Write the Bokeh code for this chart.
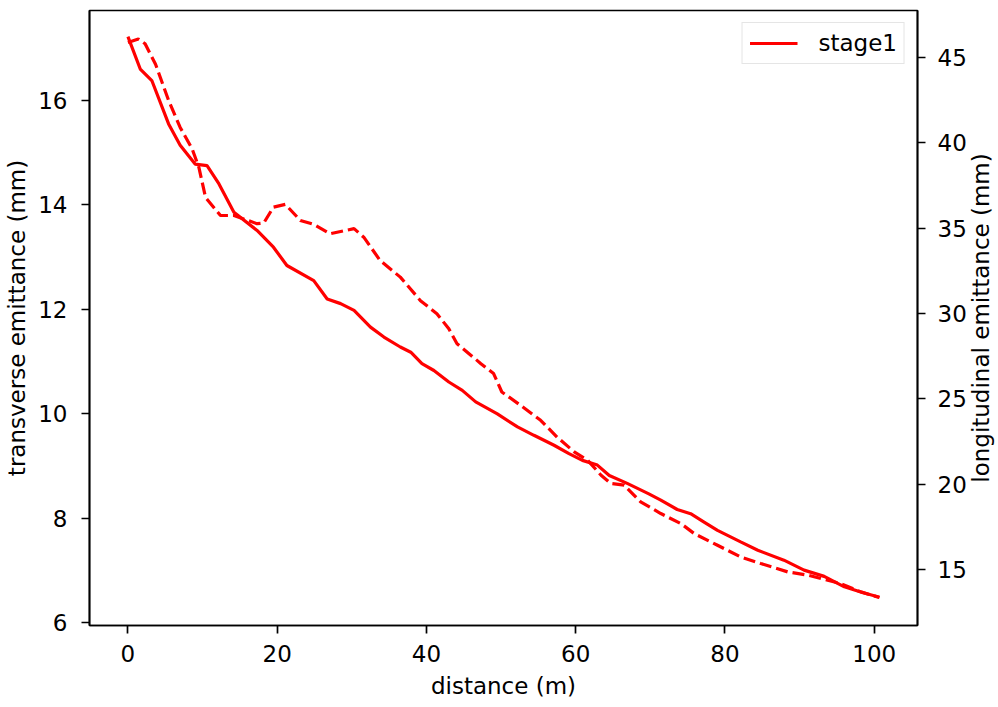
import math
from bokeh.plotting import figure
from bokeh.models import Range1d, LinearAxis, FixedTicker, Legend, LegendItem, Label
from bokeh.embed import file_html
from bokeh.resources import INLINE

# transverse emittance (left axis, solid)
trans_x = [0, 1.65, 3.2, 5.45, 7.0, 9.0, 10.6, 12.2, 14.2, 17.3, 19.5, 21.3, 24.9, 26.7, 28.5,
           30.3, 32.5, 34.3, 36.5, 37.9, 39.4, 41.0, 43.0, 44.8, 46.6, 49.5, 52.2, 54.4, 57.1,
           59.1, 60.9, 62.9, 64.5, 66.9, 69.8, 71.4, 73.6, 75.4, 77.2, 79.0, 82.1, 84.4, 87.9,
           90.6, 93.3, 96.0, 98.2, 100.7]
trans_y = [17.22, 16.60, 16.38, 15.55, 15.14, 14.78, 14.75, 14.40, 13.86, 13.51, 13.19, 12.84,
           12.55, 12.20, 12.11, 11.98, 11.66, 11.47, 11.28, 11.18, 10.96, 10.83, 10.61, 10.45,
           10.23, 10.00, 9.75, 9.59, 9.40, 9.24, 9.11, 9.02, 8.82, 8.67, 8.47, 8.35, 8.17, 8.09,
           7.93, 7.77, 7.55, 7.39, 7.20, 7.01, 6.89, 6.69, 6.59, 6.49]

# longitudinal emittance (right axis, dashed)
long_x = [0, 1.4, 2.3, 3.7, 5.45, 7.0, 8.6, 9.5, 10.4, 12.4, 14.2, 17.3, 18.2, 19.5, 21.1, 23.1,
          24.9, 27.1, 30.3, 31.6, 33.8, 36.5, 39.2, 41.4, 43.0, 44.1, 47.3, 49.0, 50.1, 52.6,
          55.3, 57.5, 59.8, 61.6, 63.4, 64.7, 66.5, 68.7, 71.4, 74.1, 75.9, 79.0, 82.1, 84.8,
          88.4, 91.1, 95.5, 98.2, 100.7]
long_y = [45.88, 46.08, 45.8, 44.6, 42.48, 40.9, 39.65, 38.57, 36.8, 35.74, 35.74, 35.26, 35.3,
          36.23, 36.39, 35.45, 35.22, 34.67, 34.97, 34.47, 33.1, 32.13, 30.75, 29.99, 29.1,
          28.23, 27.06, 26.48, 25.4, 24.62, 23.74, 22.76, 21.89, 21.4, 20.52, 20.04, 19.94,
          18.96, 18.28, 17.69, 17.1, 16.42, 15.74, 15.35, 14.86, 14.67, 14.18, 13.69, 13.36]

x_ticks = [0, 20, 40, 60, 80, 100]
left_ticks = [6, 8, 10, 12, 14, 16]
right_ticks = [15, 20, 25, 30, 35, 40, 45]

series_label = "stage1"
x_title = "distance (m)"
left_title = "transverse emittance (mm)"
right_title = "longitudinal emittance (mm)"

FONT = "DejaVu Sans"
FS = "23px"

p = figure(width=998, height=707, output_backend="svg", toolbar_location=None,
           x_range=Range1d(-5.15, 105.8), y_range=Range1d(5.95, 17.72),
           min_border_left=89, min_border_right=81, min_border_top=10, min_border_bottom=82)
p.extra_y_ranges = {"long": Range1d(11.72, 47.75)}
p.xgrid.visible = False
p.ygrid.visible = False
p.outline_line_color = "black"
p.outline_line_width = 1.7
p.background_fill_color = "white"
p.border_fill_color = "white"

r_axis = LinearAxis(y_range_name="long")
p.add_layout(r_axis, "right")

for ax in [p.xaxis[0], p.yaxis[0], r_axis]:
    ax.axis_line_color = "black"
    ax.axis_line_width = 1.7
    ax.major_tick_line_color = "black"
    ax.major_tick_line_width = 1.7
    ax.major_tick_out = 8
    ax.major_tick_in = 0
    ax.minor_tick_line_color = None
    ax.major_label_text_font = FONT
    ax.major_label_text_font_size = FS
    ax.major_label_text_color = "black"
    ax.axis_label_text_font = FONT
    ax.axis_label_text_font_size = FS
    ax.axis_label_text_font_style = "normal"
    ax.axis_label_text_color = "black"

p.xaxis[0].ticker = FixedTicker(ticks=x_ticks)
p.yaxis[0].ticker = FixedTicker(ticks=left_ticks)
r_axis.ticker = FixedTicker(ticks=right_ticks)

p.xaxis[0].major_label_standoff = 11
p.yaxis[0].major_label_standoff = 14
r_axis.major_label_standoff = 12

p.xaxis[0].axis_label = x_title
p.xaxis[0].axis_label_standoff = 8
p.yaxis[0].axis_label = left_title
p.yaxis[0].axis_label_standoff = 5

r1 = p.line(trans_x, trans_y, line_color="#ff0000", line_width=3.2)
r2 = p.line(long_x, long_y, line_color="#ff0000", line_width=3.2, line_dash="12 5",
            y_range_name="long")

legend = Legend(items=[LegendItem(label=series_label, renderers=[r1])],
                location="top_right", margin=12, padding=7, spacing=0,
                glyph_width=48, glyph_height=26, label_standoff=21,
                label_text_font=FONT, label_text_font_size=FS, label_text_color="black",
                label_height=26,
                border_line_color="#cccccc", border_line_width=1.5,
                background_fill_color="white", background_fill_alpha=0.8)
p.add_layout(legend)

# right-hand title reads bottom-to-top, as in the reference
rt = Label(x=11, y=307.5, x_units="screen", y_units="screen", text=right_title,
           angle=math.pi / 2, text_align="center", text_baseline="middle",
           text_font=FONT, text_font_size=FS, text_color="black")
p.add_layout(rt, "right")

open("out.html", "w").write(file_html(p, INLINE))
